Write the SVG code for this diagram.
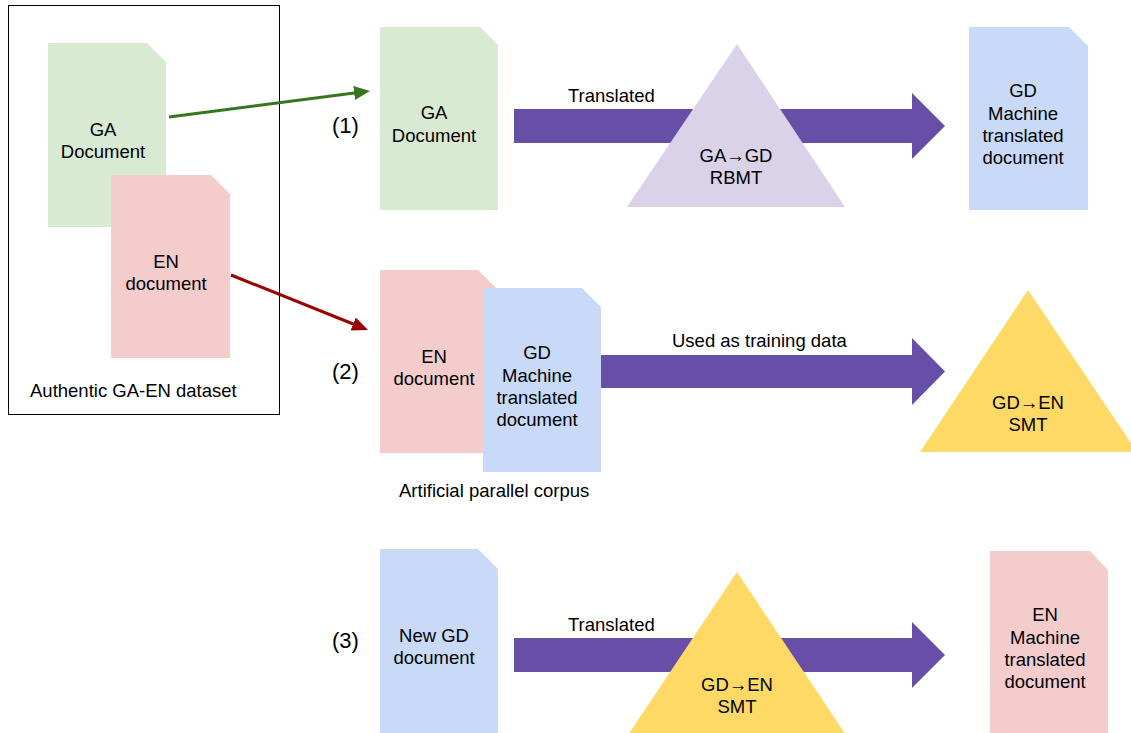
<svg xmlns="http://www.w3.org/2000/svg" width="1131" height="733" viewBox="0 0 1131 733">
<style>
text{font-family:"Liberation Sans",Arial,sans-serif;font-size:18.5px;fill:#000}
.c{text-anchor:middle}
.num{font-size:22px}
.green{fill:#d9ead3}.red{fill:#f4cccc}.blue{fill:#c9daf8}
.purple{fill:#674ea7}
</style>
<defs>
<marker id="ahG" viewBox="0 0 16 14" refX="4" refY="7" markerWidth="16" markerHeight="14" markerUnits="userSpaceOnUse" orient="auto"><path d="M0,0 L16,7 L0,14 Z" fill="#38761d"/></marker>
<marker id="ahR" viewBox="0 0 16 14" refX="4" refY="7" markerWidth="16" markerHeight="14" markerUnits="userSpaceOnUse" orient="auto"><path d="M0,0 L16,7 L0,14 Z" fill="#990000"/></marker>
</defs>
<rect width="1131" height="733" fill="#fff"/>

<g id="dataset">
<rect x="8.5" y="5.5" width="271" height="409" fill="none" stroke="#000" stroke-width="1"/>
<text x="30" y="397">Authentic GA-EN dataset</text>
</g>
<g id="ga-doc-src">
<path class="green" d="M48,43 H147 L166,62 V227 H48 Z"/>
<text class="c" x="103" y="136">GA</text>
<text class="c" x="103" y="158">Document</text>
</g>
<g id="en-doc-src">
<path class="red" d="M111,175 H211 L230,194 V358 H111 Z"/>
<text class="c" x="166" y="268">EN</text>
<text class="c" x="166" y="290">document</text>
</g>

<g id="labels">
<text class="num" x="332" y="133">(1)</text>
<text class="num" x="332" y="379">(2)</text>
<text class="num" x="332" y="648">(3)</text>
</g>

<g id="connectors">
<line x1="169" y1="117" x2="358.1" y2="92.5" stroke="#38761d" stroke-width="3" marker-end="url(#ahG)"/>
<line x1="231" y1="275" x2="356.9" y2="325.5" stroke="#990000" stroke-width="3" marker-end="url(#ahR)"/>
<path class="purple" d="M514,109 H912 V93 L945,126 L912,159 V143 H514 Z"/>
<path class="purple" d="M600,355 H912 V338 L945,371.5 L912,405 V388 H600 Z"/>
<path class="purple" d="M514,638 H912 V622 L945,655 L912,688 V672 H514 Z"/>
<text x="568" y="102">Translated</text>
<text x="672" y="347">Used as training data</text>
<text x="568" y="631">Translated</text>
</g>

<g id="row1-ga">
<path class="green" d="M380,27 H480 L498,45 V210 H380 Z"/>
<text class="c" x="434" y="119">GA</text>
<text class="c" x="434" y="142">Document</text>
</g>
<g id="row1-rbmt">
<path d="M737,44 L845,207 L627,207 Z" fill="#d9d2e9"/>
<text class="c" x="736" y="162">GA→GD</text>
<text class="c" x="736" y="184">RBMT</text>
</g>
<g id="row1-gd">
<path class="blue" d="M969,27 H1069 L1088,46 V210 H969 Z"/>
<text class="c" x="1023" y="97">GD</text>
<text class="c" x="1023" y="120">Machine</text>
<text class="c" x="1023" y="142">translated</text>
<text class="c" x="1023" y="164">document</text>
</g>

<g id="row2-en">
<path class="red" d="M380,270 H478 L498,290 V453 H380 Z"/>
<text class="c" x="434" y="363">EN</text>
<text class="c" x="434" y="385">document</text>
</g>
<g id="row2-gd">
<path class="blue" d="M483,288 H582 L601,307 V472 H483 Z"/>
<text class="c" x="537" y="359">GD</text>
<text class="c" x="537" y="382">Machine</text>
<text class="c" x="537" y="404">translated</text>
<text class="c" x="537" y="426">document</text>
</g>
<text x="399" y="497">Artificial parallel corpus</text>
<g id="row2-smt">
<path d="M1028,290 L1137,452 L920,452 Z" fill="#ffd966"/>
<text class="c" x="1028" y="409">GD→EN</text>
<text class="c" x="1028" y="431">SMT</text>
</g>

<g id="row3-gd">
<path class="blue" d="M380,549 H478 L498,569 V740 H380 Z"/>
<text class="c" x="434" y="642">New GD</text>
<text class="c" x="434" y="664">document</text>
</g>
<g id="row3-smt">
<path d="M737,572 L846,735 L628,735 Z" fill="#ffd966"/>
<text class="c" x="737" y="691">GD→EN</text>
<text class="c" x="737" y="713">SMT</text>
</g>
<g id="row3-en">
<path class="red" d="M990,551 H1090 L1108,570 V740 H990 Z"/>
<text class="c" x="1045" y="621">EN</text>
<text class="c" x="1045" y="644">Machine</text>
<text class="c" x="1045" y="666">translated</text>
<text class="c" x="1045" y="688">document</text>
</g>
</svg>
